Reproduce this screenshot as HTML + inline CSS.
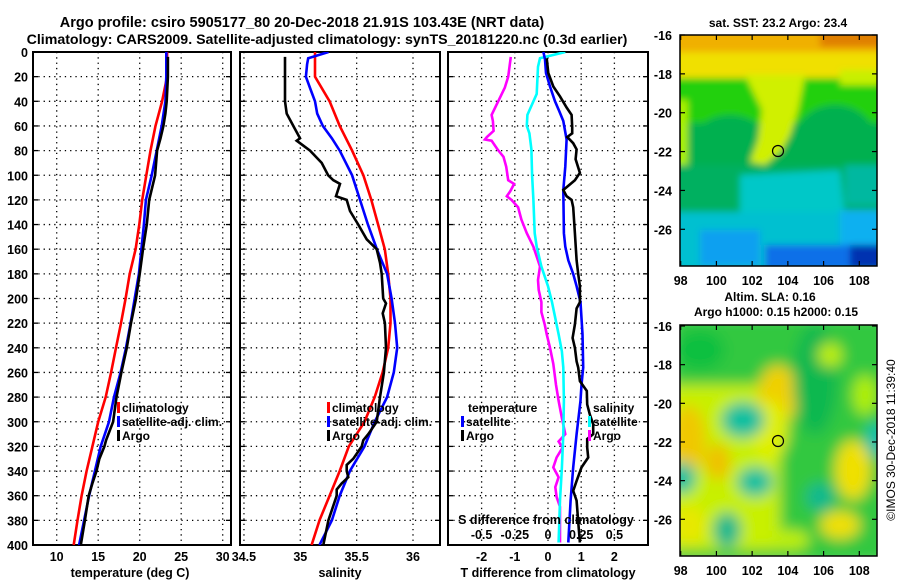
<!DOCTYPE html>
<html><head><meta charset="utf-8"><style>
body{margin:0;background:#fff}
svg text{font-family:"Liberation Sans",sans-serif;font-weight:bold;fill:#000}
</style></head><body>
<svg id="c" width="900" height="580" viewBox="0 0 900 580" xmlns="http://www.w3.org/2000/svg">
<defs>
<clipPath id="cp1"><rect x="33" y="52" width="198" height="493"/></clipPath>
<clipPath id="cp2"><rect x="240" y="52" width="200" height="493"/></clipPath>
<clipPath id="cp3"><rect x="448" y="52" width="200" height="493"/></clipPath>
<clipPath id="cm1"><rect x="680" y="35" width="197" height="231"/></clipPath>
<clipPath id="cm2"><rect x="680" y="325" width="197" height="231"/></clipPath>
<filter id="bl" filterUnits="userSpaceOnUse" x="600" y="280" width="320" height="320"><feGaussianBlur stdDeviation="7"/></filter>
<filter id="bl2" filterUnits="userSpaceOnUse" x="600" y="0" width="320" height="300"><feGaussianBlur stdDeviation="3.5"/></filter>
</defs>
<text x="302" y="27" font-size="14.5" text-anchor="middle">Argo profile: csiro 5905177_80 20-Dec-2018 21.91S 103.43E (NRT data)</text>
<text x="327" y="44" font-size="14.2" text-anchor="middle">Climatology: CARS2009. Satellite-adjusted climatology: synTS_20181220.nc (0.3d earlier)</text>

<g>
<text x="778" y="27" font-size="12" text-anchor="middle">sat. SST: 23.2 Argo: 23.4</text>
<g clip-path="url(#cm1)"><g filter="url(#bl2)">
<rect x="670" y="25" width="220" height="250" fill="#00b050"/>
<rect x="670" y="25" width="220" height="32" fill="#f0b000"/>
<rect x="820" y="25" width="70" height="22" fill="#e08000"/>
<rect x="670" y="52" width="220" height="28" fill="#f0e000"/>
<rect x="670" y="78" width="220" height="45" fill="#20d010"/>
<rect x="670" y="100" width="18" height="65" fill="#a8f000"/>
<ellipse cx="730" cy="140" rx="35" ry="25" fill="#00b050"/>
<ellipse cx="835" cy="140" rx="40" ry="35" fill="#00b050"/>
<rect x="840" y="70" width="40" height="15" fill="#c8f000"/>
<polygon points="745,75 805,75 798,110 790,135 782,150 765,165 750,162 758,140 762,110" fill="#d0f000"/>
<rect x="670" y="165" width="220" height="50" fill="#00b060"/>
<polygon points="740,175 840,170 845,218 740,222" fill="#00c8c8"/>
<rect x="845" y="165" width="40" height="40" fill="#00b8a0"/>
<rect x="670" y="212" width="220" height="60" fill="#00c0d0"/>
<rect x="700" y="230" width="60" height="36" fill="#10a0f0"/>
<rect x="765" y="245" width="90" height="25" fill="#1070e8"/>
<rect x="840" y="210" width="40" height="35" fill="#10b0f0"/>
<rect x="850" y="245" width="40" height="25" fill="#0030b0"/>
</g></g>
<rect x="680" y="35" width="197" height="231" fill="none" stroke="#000" stroke-width="1.5"/>
<circle cx="778" cy="151" r="5.5" fill="none" stroke="#000" stroke-width="1.2"/>
</g>

<g>
<text x="770" y="301" font-size="12" text-anchor="middle">Altim. SLA: 0.16</text>
<text x="776" y="316" font-size="12" text-anchor="middle">Argo h1000: 0.15 h2000: 0.15</text>
<g clip-path="url(#cm2)"><g filter="url(#bl)">
<rect x="670" y="315" width="220" height="250" fill="#30c840"/>
<rect x="670" y="385" width="110" height="165" fill="#c8f000"/>
<ellipse cx="688" cy="440" rx="18" ry="35" fill="#f0c800"/>
<ellipse cx="718" cy="462" rx="12" ry="18" fill="#f0c000"/>
<ellipse cx="778" cy="395" rx="20" ry="30" fill="#f0d000"/>
<ellipse cx="770" cy="430" rx="18" ry="30" fill="#e0f000"/>
<ellipse cx="700" cy="350" rx="25" ry="20" fill="#10c040"/>
<ellipse cx="815" cy="380" rx="22" ry="55" fill="#10b850"/>
<ellipse cx="743" cy="420" rx="22" ry="18" fill="#10c0a0"/>
<ellipse cx="755" cy="482" rx="18" ry="15" fill="#10c0a0"/>
<ellipse cx="682" cy="478" rx="14" ry="16" fill="#10c0a0"/>
<ellipse cx="820" cy="497" rx="14" ry="14" fill="#10b890"/>
<ellipse cx="727" cy="530" rx="14" ry="18" fill="#10b890"/>
<ellipse cx="876" cy="440" rx="10" ry="18" fill="#10c0b0"/>
<ellipse cx="853" cy="470" rx="18" ry="30" fill="#f0e000"/>
<ellipse cx="840" cy="525" rx="20" ry="14" fill="#f0e000"/>
<ellipse cx="830" cy="355" rx="12" ry="12" fill="#c0f000"/>
<ellipse cx="865" cy="395" rx="12" ry="20" fill="#b0f000"/>
<ellipse cx="690" cy="525" rx="15" ry="20" fill="#e8e800"/>
<ellipse cx="790" cy="540" rx="20" ry="10" fill="#c0f000"/>
</g></g>
<rect x="680" y="325" width="197" height="231" fill="none" stroke="#000" stroke-width="1.5"/>
<circle cx="778" cy="441" r="5.5" fill="none" stroke="#000" stroke-width="1.2"/>
</g>
<text transform="translate(895,440) rotate(-90)" font-size="12" text-anchor="middle" style="font-weight:normal">©IMOS 30-Dec-2018 11:39:40</text>
<g id="dyn"></g>
</svg>
<script>
// ---- temperature panel data ----
const depthT = [0,20,40,60,80,100,120,140,160,180,200,220,240,260,280,300,320,340,360,380,400];
const climT = [23.3,23.3,22.7,21.9,21.3,20.8,20.3,19.95,19.5,18.8,18.3,17.75,17.15,16.55,15.9,15.0,14.3,13.6,13.0,12.5,12.05];
const satT = [23.2,23.2,23.1,22.65,22.05,21.45,20.75,20.5,20.2,19.9,19.4,18.9,18.35,17.7,16.9,16.3,15.3,14.6,13.9,13.3,12.7];
const depthArgo = [4,20,40,50,60,70,80,100,120,140,160,180,200,220,240,260,280,300,315,320,330,340,350,360,380,400];
const argoT = [23.4,23.4,23.25,23.1,22.85,22.5,22.1,21.85,21.15,20.85,20.4,20.0,19.55,18.95,18.45,17.8,17.2,16.8,15.95,15.75,15.15,14.8,14.3,13.85,13.4,12.9];
// ---- salinity panel data ----
const climS = [35.13,35.13,35.26,35.35,35.46,35.56,35.63,35.69,35.75,35.78,35.80,35.80,35.78,35.73,35.66,35.57,35.43,35.35,35.26,35.17,35.10];
const depthSatS = [0,5,10,20,30,40,50,60,70,80,100,120,140,160,180,200,220,240,260,280,300,320,340,360,380,400];
const satS = [35.25,35.07,35.06,35.05,35.09,35.13,35.15,35.20,35.28,35.35,35.46,35.53,35.60,35.68,35.77,35.81,35.84,35.86,35.83,35.77,35.66,35.57,35.44,35.35,35.28,35.17];
const depthArgoS = [4,40,50,60,70,72,80,90,100,104,107,117,120,129,140,152,160,171,180,200,204,212,220,240,260,280,300,310,315,320,330,335,340,345,350,355,360,380,400];
const argoS = [34.864,34.864,34.879,34.938,34.997,34.968,35.086,35.19,35.248,35.293,35.352,35.317,35.412,35.441,35.514,35.589,35.678,35.707,35.722,35.736,35.76,35.731,35.751,35.76,35.742,35.707,35.678,35.603,35.559,35.545,35.47,35.412,35.412,35.426,35.367,35.323,35.323,35.249,35.204];
// ---- difference panel data ----
const depthArgoSd = [4,20,29,40,51,56,64,69,71,72,79,85,93,104,107,113,117,120,126,136,147,158,174,185,193,203,211,221,229,240,253,270,283,297,310,316,321,329,337,345,353,361,369,391,398];
const argoSdiff = [-0.28,-0.30,-0.325,-0.375,-0.425,-0.415,-0.41,-0.46,-0.475,-0.425,-0.38,-0.335,-0.315,-0.30,-0.255,-0.285,-0.31,-0.275,-0.225,-0.20,-0.16,-0.11,-0.06,-0.075,-0.07,-0.05,-0.05,-0.025,-0.01,0.015,0.04,0.06,0.08,0.105,0.13,0.08,0.11,0.065,0.04,0.08,0.055,0.065,0.09,0.09,0.09];
const depthSatSd = [0,5,12,34,51,60,66,79,100,120,147,158,174,190,203,216,229,243,256,283,310,337,364,398];
const satSdiff = [0.13,-0.06,-0.075,-0.085,-0.155,-0.16,-0.14,-0.125,-0.12,-0.11,-0.10,-0.085,-0.05,0.0,0.03,0.055,0.08,0.105,0.115,0.12,0.115,0.105,0.09,0.08];
const depthSatTd = [0,6,17,28,40,48,56,71,93,112,147,158,169,180,190,203,229,256,270,283,310,337,364,398];
const satTdiff = [-0.14,-0.09,-0.06,0.06,0.21,0.34,0.46,0.56,0.52,0.46,0.48,0.52,0.61,0.76,0.86,0.98,1.04,1.06,1.01,0.98,0.86,0.76,0.68,0.61];
const depthArgoTd = [5,17,28,36,45,51,61,66,69,74,79,87,98,104,112,117,120,126,147,169,180,190,203,208,221,232,240,251,256,267,275,286,294,302,310,314,321,329,337,348,356,364,381,398];
const argoTdiff = [-0.04,0.01,0.16,0.36,0.56,0.71,0.73,0.73,0.58,0.76,0.86,0.83,0.96,0.81,0.46,0.56,0.71,0.76,0.81,0.86,0.91,0.96,0.96,0.86,0.81,0.74,0.81,0.86,0.91,0.96,1.17,1.18,1.26,1.36,1.36,1.18,1.18,1.21,1.01,0.86,0.76,0.86,0.91,0.96];
// ---- ticks ----
const depthTicks = [0,20,40,60,80,100,120,140,160,180,200,220,240,260,280,300,320,340,360,380,400];
const tTicks = [10,15,20,25,30];
const sTicks = [34.5,35,35.5,36];
const tdTicks = [-2,-1,0,1,2];
const sdTicks = [-0.5,-0.25,0,0.25,0.5];
const sdLabels = ["-0.5","-0.25","0","0.25","0.5"];
const latTicks = [-16,-18,-20,-22,-24,-26];
const lonTicks = [98,100,102,104,106,108];

const NS="http://www.w3.org/2000/svg";
const root=document.getElementById('dyn');
function mk(tag,attrs,parent){const e=document.createElementNS(NS,tag);for(const k in attrs)e.setAttribute(k,attrs[k]);(parent||root).appendChild(e);return e;}
const yD=d=>52+d*1.2325;
const xT=t=>56.7+(t-10)*8.3;
const xS=s=>300.3+(s-35)*112.7;
const xTd=t=>548+t*33.2;
const xSd=s=>548+s*132.8;

function panel(name,x0,x1,clip,xticks,xf){
  const g=mk('g',{});
  
  
  depthTicks.forEach(d=>{
    const l=mk('line',{x1:x0,x2:x1,y1:yD(d),y2:yD(d),stroke:'#000','stroke-width':1.3,'stroke-dasharray':'1.3,4'},g);
    
    
    mk('line',{x1:x0,x2:x0+5,y1:yD(d),y2:yD(d),stroke:'#000','stroke-width':1.3},g);
    mk('line',{x1:x1-5,x2:x1,y1:yD(d),y2:yD(d),stroke:'#000','stroke-width':1.3},g);
  });
  xticks.forEach(v=>{
    const l=mk('line',{x1:xf(v),x2:xf(v),y1:52,y2:545,stroke:'#000','stroke-width':1.3,'stroke-dasharray':'1.3,4'},g);
    
    
  });
  mk('rect',{x:x0,y:52,width:x1-x0,height:493,fill:'none',stroke:'#000','stroke-width':2},g);
  return g;
}
function series(g,name,dep,val,xf,color,clip){
  const p=mk('polyline',{points:dep.map((d,i)=>xf(val[i]).toFixed(1)+','+yD(d).toFixed(1)).join(' '),fill:'none',stroke:color,'stroke-width':2.6,'clip-path':'url(#'+clip+')'},g);
  
  
}
function txt(g,name,x,y,s,size,anchor){
  const t=mk('text',{x:x,y:y,'font-size':size||12,'text-anchor':anchor||'start'},g);
  t.textContent=s;
  
  
  return t;
}
function legendItem(g,x,y,color,label){
  const r=mk('rect',{x:x,y:y-10,width:3,height:11,fill:color},g);
  
  
  txt(g,'legend-entry',x+5,y,label,12);
}

// Panel 1
const g1=panel('temperature-panel',33,231,'cp1',tTicks,xT);
depthTicks.forEach(d=>txt(g1,'y-tick-label',28,yD(d)+5,String(d),12.5,'end'));
tTicks.forEach(v=>txt(g1,'x-tick-label',xT(v),561,String(v),12.5,'middle'));
txt(g1,'x-axis-title',130,577,'temperature (deg C)',12.5,'middle');
series(g1,'climatology-temperature-line',depthT,climT,xT,'#ff0000','cp1');
series(g1,'satellite-temperature-line',depthT,satT,xT,'#0000ff','cp1');
series(g1,'argo-temperature-line',depthArgo,argoT,xT,'#000','cp1');
legendItem(g1,117,412,'#ff0000','climatology');
legendItem(g1,117,426,'#0000ff','satellite-adj. clim.');
legendItem(g1,117,440,'#000','Argo');

// Panel 2
const g2=panel('salinity-panel',240,440,'cp2',sTicks,xS);
sTicks.forEach(v=>txt(g2,'x-tick-label',xS(v),561,String(v),12.5,'middle'));
txt(g2,'x-axis-title',340,577,'salinity',12.5,'middle');
series(g2,'climatology-salinity-line',depthT,climS,xS,'#ff0000','cp2');
series(g2,'satellite-salinity-line',depthSatS,satS,xS,'#0000ff','cp2');
series(g2,'argo-salinity-line',depthArgoS,argoS,xS,'#000','cp2');
legendItem(g2,327,412,'#ff0000','climatology');
legendItem(g2,327,426,'#0000ff','satellite-adj. clim.');
legendItem(g2,327,440,'#000','Argo');

// Panel 3
const g3=panel('difference-panel',448,648,'cp3',tdTicks,xTd);
tdTicks.forEach(v=>txt(g3,'x-tick-label',xTd(v),561,String(v),12.5,'middle'));
txt(g3,'x-axis-title',548,577,'T difference from climatology',12.5,'middle');
series(g3,'argo-salinity-diff-line',depthArgoSd,argoSdiff,xSd,'#ff00ff','cp3');
series(g3,'satellite-salinity-diff-line',depthSatSd,satSdiff,xSd,'#00ffff','cp3');
series(g3,'satellite-temperature-diff-line',depthSatTd,satTdiff,xTd,'#0000ff','cp3');
series(g3,'argo-temperature-diff-line',depthArgoTd,argoTdiff,xTd,'#000','cp3');
txt(g3,'s-axis-title',546,524,'S difference from climatology',12.5,'middle');
sdTicks.forEach((v,i)=>txt(g3,'s-tick-label',xSd(v),539,sdLabels[i],12.5,'middle'));
txt(g3,'legend-title-temperature',468,412,'temperature',12);
legendItem(g3,461,426,'#0000ff','satellite');
legendItem(g3,461,440,'#000','Argo');
txt(g3,'legend-title-salinity',593,412,'salinity',12);
legendItem(g3,588,426,'#00ffff','satellite');
legendItem(g3,588,440,'#ff00ff','Argo');

// map axes
function mapAxes(name,top,lat0px,latStep){
  const g=mk('g',{});
  
  
  latTicks.forEach(v=>{
    const y=lat0px+(-16-v)*latStep;
    mk('line',{x1:680,x2:685,y1:y,y2:y,stroke:'#000','stroke-width':1.2},g);
    mk('line',{x1:872,x2:877,y1:y,y2:y,stroke:'#000','stroke-width':1.2},g);
    txt(g,'lat-tick-label',672,y+5,String(v),12.5,'end');
  });
  lonTicks.forEach(v=>{
    const x=680.7+(v-98)*17.86;
    mk('line',{x1:x,x2:x,y1:top,y2:top+5,stroke:'#000','stroke-width':1.2},g);
    mk('line',{x1:x,x2:x,y1:top+226,y2:top+231,stroke:'#000','stroke-width':1.2},g);
    txt(g,'lon-tick-label',x,top+250,String(v),12.5,'middle');
  });
}
mapAxes('sst-map-axes',35,35,19.43);
mapAxes('sla-map-axes',325,326,19.33);
</script>
</body></html>
